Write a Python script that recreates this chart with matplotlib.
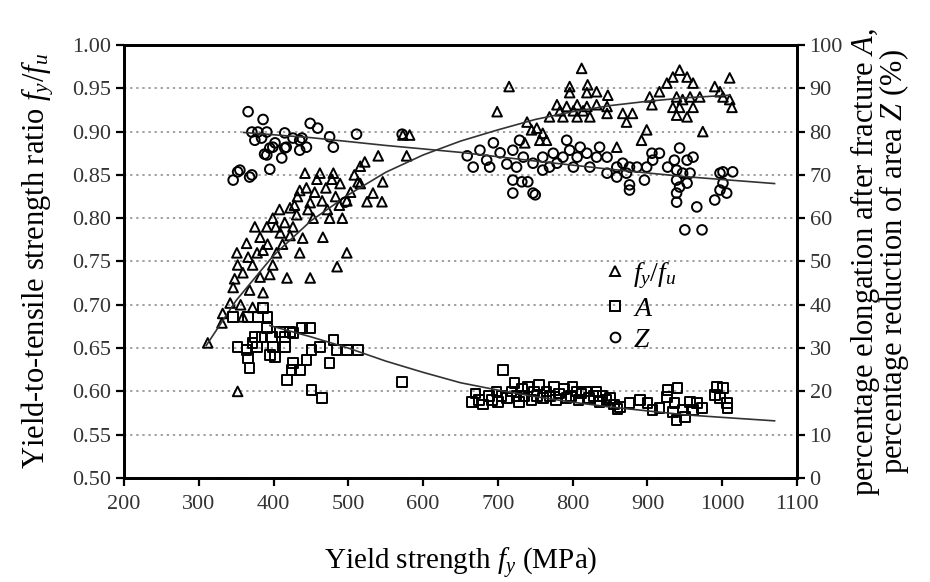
import numpy as np
import matplotlib
matplotlib.use('Agg')
import matplotlib.pyplot as plt
from matplotlib.lines import Line2D

# ── Fonts ─────────────────────────────────────────────────────────────────────
plt.rcParams['font.family'] = ['Liberation Serif', 'DejaVu Serif']
plt.rcParams['mathtext.fontset'] = 'custom'
plt.rcParams['mathtext.rm'] = 'Liberation Serif'
plt.rcParams['mathtext.it'] = 'Liberation Serif:italic'

# ── Data ──────────────────────────────────────────────────────────────────────
# yield-to-tensile ratio fy/fu  (left axis)
ratio_fy = [312, 331, 332, 342, 346, 351, 352, 359, 359, 364, 368, 372, 372, 382,
            382, 386, 386, 391, 399, 399, 404, 409, 418, 422, 422, 431, 435, 435,
            439, 442, 449, 449, 453, 462, 466, 475, 480, 485, 489, 492, 498, 498,
            513, 516, 516, 522, 525, 533, 540, 545, 546, 573, 578, 582, 352,
            348, 356, 366, 375, 378, 392, 395, 403, 408, 412, 415, 426, 428, 432,
            444, 446, 455, 458, 465, 470, 472, 478, 483, 488, 503, 508,
            699, 715, 736, 739, 745, 752, 756, 760, 765, 769, 779, 783, 787, 792,
            796, 796, 801, 806, 806, 812, 814, 819, 819, 820, 823, 832, 832, 846,
            846, 847, 859, 867, 872, 880, 892, 899, 903, 906, 916, 926, 934, 934,
            939, 939, 943, 943, 947, 953, 953, 957, 961, 961, 970, 974, 990, 997,
            1001, 1010, 1010, 1013]
ratio_val = [0.656, 0.679, 0.690, 0.702, 0.720, 0.760, 0.746, 0.737, 0.686, 0.771,
             0.717, 0.697, 0.746, 0.778, 0.732, 0.763, 0.714, 0.790, 0.800, 0.746,
             0.760, 0.783, 0.731, 0.780, 0.812, 0.804, 0.832, 0.760, 0.777, 0.852,
             0.818, 0.731, 0.800, 0.852, 0.778, 0.800, 0.852, 0.744, 0.840, 0.800,
             0.760, 0.820, 0.842, 0.860, 0.840, 0.865, 0.819, 0.829, 0.872, 0.819,
             0.842, 0.896, 0.872, 0.896, 0.600,
             0.730, 0.700, 0.755, 0.790, 0.760, 0.770, 0.735, 0.790, 0.810, 0.770,
             0.795, 0.790, 0.815, 0.825, 0.835, 0.810, 0.830, 0.845, 0.820, 0.835,
             0.810, 0.845, 0.825, 0.815, 0.830, 0.850,
             0.923, 0.952, 0.887, 0.911, 0.902, 0.904, 0.890, 0.898, 0.890, 0.917,
             0.931, 0.924, 0.917, 0.929, 0.952, 0.945, 0.924, 0.931, 0.917, 0.973,
             0.924, 0.945, 0.929, 0.954, 0.917, 0.946, 0.931, 0.929, 0.921, 0.942,
             0.882, 0.921, 0.911, 0.921, 0.890, 0.902, 0.940, 0.931, 0.946, 0.956,
             0.963, 0.928, 0.940, 0.919, 0.971, 0.928, 0.937, 0.963, 0.917, 0.940,
             0.956, 0.928, 0.940, 0.900, 0.952, 0.946, 0.940, 0.962, 0.937, 0.928]

# percentage elongation after fracture A (right axis)
elong_fy = [346, 366, 379, 392, 386, 391, 375, 384, 398, 409, 422, 438, 449, 415,
            426, 372, 352, 364, 378, 366, 368, 395, 402, 415, 399, 426, 424, 435,
            418, 444, 451, 462, 480, 475, 484, 498, 513, 451, 465, 572,
            665, 670, 675, 680, 688, 692, 698, 700, 705, 707, 712, 718, 722, 725,
            728, 732, 735, 740, 745, 748, 752, 755, 760, 765, 770, 775, 778, 782,
            788, 792, 798, 800, 805, 808, 812, 818, 822, 828, 832, 836, 840, 845,
            850, 855, 860, 863, 876, 890, 900, 907, 916, 926, 927, 934, 936, 939,
            940, 947, 950, 957, 961, 966, 973, 990, 993, 997, 1001, 1006, 1007]
elong_val = [37.2, 37.2, 37.2, 37.2, 39.3, 34.6, 32.6, 32.6, 32.6, 33.7, 33.7, 34.6,
             34.6, 32.6, 33.5, 31.2, 30.3, 29.6, 30.3, 27.7, 25.4, 28.4, 27.9, 30.3,
             30.3, 26.6, 25.0, 25.0, 22.6, 27.3, 29.6, 30.3, 31.9, 26.6, 29.6, 29.6,
             29.6, 20.3, 18.5, 22.2,
             17.5, 19.5, 18.0, 17.0, 19.0, 18.0, 20.0, 17.5, 19.0, 25.0, 18.5, 20.0,
             22.0, 19.0, 17.5, 20.5, 19.0, 21.0, 18.0, 20.0, 19.0, 21.5, 18.5, 20.0,
             19.0, 21.0, 18.0, 19.5, 20.5, 18.5, 19.0, 21.0, 20.0, 18.0, 19.5, 20.0,
             18.5, 19.0, 20.0, 17.5, 19.0, 18.0, 18.5, 17.0, 16.0, 16.4, 17.3, 18.0,
             17.3, 15.7, 16.2, 18.7, 20.3, 15.2, 17.3, 13.4, 20.8, 15.7, 14.1, 17.6,
             15.7, 17.3, 16.2, 19.2, 21.0, 18.5, 20.8, 17.3, 16.2]

# percentage reduction of area Z (right axis)
area_fy = [346, 352, 355, 366, 368, 371, 371, 375, 379, 384, 386, 388, 391, 391,
           395, 395, 399, 402, 411, 415, 415, 417, 426, 435, 435, 438, 444, 449,
           459, 475, 480, 496, 511, 572,
           659, 667, 676, 685, 694, 703, 689, 712, 720, 729, 725, 734, 720, 732,
           740, 720, 750, 747, 747, 760, 769, 760, 779, 774, 792, 796, 787, 806,
           810, 819, 823, 801, 832, 836, 846, 846, 859, 867, 876, 872, 859, 876,
           876, 886, 896, 899, 907, 916, 906, 927, 936, 943, 953, 961, 939, 947,
           957, 939, 943, 953, 939, 939, 966, 950, 973, 990, 997, 1006, 1001, 997,
           1001, 1014]
area_val = [68.8, 70.7, 71.1, 84.6, 69.5, 70.0, 79.9, 78.0, 79.9, 78.5, 82.8, 74.8,
            79.9, 74.6, 76.2, 71.3, 76.4, 77.4, 73.9, 79.7, 76.2, 76.4, 78.5, 75.7,
            78.0, 78.5, 76.4, 81.9, 80.8, 78.8, 76.4, 63.7, 79.4, 79.4,
            74.4, 71.8, 75.7, 73.4, 77.4, 75.1, 71.8, 72.5, 75.7, 78.0, 71.8, 74.1,
            68.8, 68.4, 68.4, 65.8, 65.4, 72.7, 65.8, 74.1, 71.8, 71.1, 72.7, 75.0,
            78.0, 75.7, 74.1, 74.1, 76.4, 75.0, 71.8, 71.8, 74.1, 76.4, 74.1, 70.4,
            71.8, 72.7, 71.8, 70.4, 69.5, 67.7, 66.5, 71.8, 68.8, 71.8, 73.4, 75.0,
            75.0, 71.8, 73.4, 76.2, 73.4, 74.1, 71.1, 70.4, 70.4, 68.8, 67.2, 68.1,
            65.8, 63.7, 62.6, 57.3, 57.3, 64.2, 66.5, 65.8, 68.1, 70.4, 70.7, 70.7]

# fitted trend lines
fit_ratio_fy = [310, 350, 400, 450, 500, 550, 600, 650, 700, 750, 800, 850, 900, 950, 1010]
fit_ratio = [0.653, 0.705, 0.757, 0.797, 0.827, 0.853, 0.873, 0.889, 0.902, 0.914,
             0.923, 0.930, 0.935, 0.939, 0.942]
fit_elong_fy = [395, 450, 500, 550, 600, 650, 700, 750, 800, 850, 900, 950, 1000, 1070]
fit_elong = [35.2, 32.6, 30.0, 27.0, 24.4, 22.0, 20.3, 18.8, 17.5, 16.4, 15.5, 14.6, 14.0, 13.2]
fit_area_fy = [360, 450, 550, 650, 750, 850, 950, 1070]
fit_area = [79.8, 78.6, 76.8, 75.2, 73.2, 71.3, 69.6, 68.0]

# ── Plot setup ────────────────────────────────────────────────────────────────
fig = plt.figure(figsize=(9.3, 5.82), dpi=100)
ax = fig.add_axes([0.1333, 0.1787, 0.7237, 0.744])
ax2 = ax.twinx()

mk = dict(facecolor='none', edgecolor='black', linewidths=1.4, s=48, zorder=3)
ax.scatter(ratio_fy, ratio_val, marker='^', **mk)
ax2.scatter(elong_fy, elong_val, marker='s', **mk)
ax2.scatter(area_fy, area_val, marker='o', **mk)

line_kw = dict(color='#333333', linewidth=1.2, zorder=4)
ax.plot(fit_ratio_fy, fit_ratio, **line_kw)
ax2.plot(fit_elong_fy, fit_elong, **line_kw)
ax2.plot(fit_area_fy, fit_area, **line_kw)

# ── Axes formatting ───────────────────────────────────────────────────────────
ax.set_xlim(200, 1100)
ax.set_ylim(0.50, 1.00)
ax2.set_ylim(0, 100)
ax.set_xticks(range(200, 1101, 100))
ax.set_yticks(np.arange(0.50, 1.001, 0.05))
ax.set_yticklabels([f'{v:.2f}' for v in np.arange(0.50, 1.001, 0.05)])
ax2.set_yticks(range(0, 101, 10))

for a in (ax, ax2):
    for sp in a.spines.values():
        sp.set_linewidth(2.0)
    a.tick_params(direction='out', length=6, width=1.6, labelsize=16, pad=3,
                  labelcolor='#333333')
ax.tick_params(axis='x', pad=6)

ax.grid(axis='y', linestyle=(0, (1.5, 2.5)), color='#888888', linewidth=1.1, zorder=0)

ax.set_xlabel(r'Yield strength $f_y$ (MPa)', fontsize=21, labelpad=23)
ax.set_ylabel(r'Yield-to-tensile strength ratio $f_y/f_u$', fontsize=22, labelpad=12)
ax2.set_ylabel('percentage elongation after fracture $A$,\n'
               'percentage reduction of area $Z$ (%)', fontsize=22,
               labelpad=4, linespacing=0.8)

# ── Legend ────────────────────────────────────────────────────────────────────
handles = [Line2D([], [], marker=m, linestyle='none', markerfacecolor='none',
                  markeredgecolor='black', markeredgewidth=1.4, markersize=7)
           for m in ('^', 's', 'o')]
ax2.legend(handles, [r'$f_y/f_u$', r'$A$', r'$Z$'], loc='upper left',
           bbox_to_anchor=(0.688, 0.535), frameon=False, fontsize=20,
           borderpad=0, handletextpad=0.15, labelspacing=0.2, handlelength=1.0)

plt.savefig('out.png', dpi=100)
